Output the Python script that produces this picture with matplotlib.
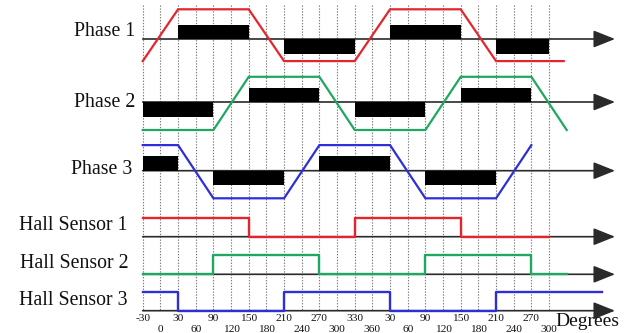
import numpy as np
import matplotlib
matplotlib.use("Agg")
import matplotlib.pyplot as plt

# ---------------- data ----------------
grid_deg = [-30, 0, 30, 60, 90, 120, 150, 180, 210, 240, 270, 300, 330, 360,
            390, 420, 450, 480, 510, 540, 570, 600, 630, 660]
top_tick_pos = [-30, 30, 90, 150, 210, 270, 330, 390, 450, 510, 570, 630]
top_tick_lab = ["-30", "30", "90", "150", "210", "270", "330", "30", "90", "150", "210", "270"]
bot_tick_pos = [0, 60, 120, 180, 240, 300, 360, 420, 480, 540, 600, 660]
bot_tick_lab = ["0", "60", "120", "180", "240", "300", "360", "60", "120", "180", "240", "300"]

# trapezoidal back-EMF (normalised +1 / -1)
phase1_deg = [-30, 30, 150, 210, 330, 390, 510, 570, 685]
phase1_lvl = [-1, 1, 1, -1, -1, 1, 1, -1, -1]
phase2_deg = [-30, 90, 150, 270, 330, 450, 510, 630, 690]
phase2_lvl = [-1, -1, 1, 1, -1, -1, 1, 1, -1]
phase3_deg = [-30, 30, 90, 210, 270, 390, 450, 570, 630]
phase3_lvl = [1, 1, -1, -1, 1, 1, -1, -1, 1]

# commutation current blocks: (start, end, sign)
phase1_bars = [(30, 150, 1), (210, 330, -1), (390, 510, 1), (570, 660, -1)]
phase2_bars = [(-30, 90, -1), (150, 270, 1), (330, 450, -1), (510, 630, 1)]
phase3_bars = [(-30, 30, 1), (90, 210, -1), (270, 390, 1), (450, 570, -1)]

# hall sensor signals (step, post)
hall1_deg = [-30, 150, 330, 510, 660]
hall1_lvl = [1, 0, 1, 0, 0]
hall2_deg = [-30, 90, 270, 450, 630, 690]
hall2_lvl = [0, 1, 0, 1, 0, 0]
hall3_deg = [-30, 30, 210, 390, 570, 750]
hall3_lvl = [1, 0, 1, 0, 1, 1]

row_labels = ["Phase 1", "Phase 2", "Phase 3", "Hall Sensor 1", "Hall Sensor 2", "Hall Sensor 3"]

# ---------------- layout (pixel space) ----------------
W, H = 626, 333
fig = plt.figure(figsize=(W / 100, H / 100), dpi=100)
ax = fig.add_axes([0, 0, 1, 1])
px_per_deg = 0.58884
x0_px = 160.4
ax.set_xlim(-x0_px / px_per_deg, (W - x0_px) / px_per_deg)
ax.set_ylim(H, 0)
ax.axis("off")

RED = "#e3262b"
GREEN = "#1fa862"
BLUE = "#2f2fd8"
AX_C = "#2a2a2a"
SERIF = ["Liberation Serif", "DejaVu Serif"]

# gridlines
for g in grid_deg:
    ax.plot([g, g], [5, 311], color="#7a7a7a", lw=0.8, ls=(0, (1.2, 1.4)), zorder=1)

# axis arrows
axis_y = [39, 102, 170.7, 236.7, 274.3, 310.7]
tip_deg = (615 - x0_px) / px_per_deg
for y in axis_y:
    ax.annotate("", xy=(tip_deg, y), xytext=(-30, y),
                arrowprops=dict(arrowstyle="-|>,head_length=0.95,head_width=0.38",
                                color=AX_C, lw=1.2, mutation_scale=14,
                                shrinkA=0, shrinkB=0), zorder=2)

# phases
phase_specs = [
    (phase1_deg, phase1_lvl, phase1_bars, RED, 35.2, 25.9, 39),
    (phase2_deg, phase2_lvl, phase2_bars, GREEN, 103.4, 26.6, 102),
    (phase3_deg, phase3_lvl, phase3_bars, BLUE, 171.7, 26.6, 170.7),
]
bar_h = 14.5
for deg, lvl, bars, col, cy, amp, ay in phase_specs:
    for s, e, sg in bars:
        ax.bar(s, -sg * bar_h, width=e - s, bottom=ay, align="edge",
               color="black", edgecolor="black", lw=0, zorder=3)
    ax.plot(deg, cy - amp * np.array(lvl), color=col, lw=1.6, zorder=4,
            solid_joinstyle="miter")

# hall sensors
hall_specs = [
    (hall1_deg, hall1_lvl, RED, 236.7),
    (hall2_deg, hall2_lvl, GREEN, 274.3),
    (hall3_deg, hall3_lvl, BLUE, 310.7),
]
for deg, lvl, col, ay in hall_specs:
    ax.step(deg, ay - 19 * np.array(lvl), where="post", color=col, lw=1.7, zorder=4)

# row labels
label_pos = [(135, 36), (135, 107.3), (132.5, 174.3), (127.3, 230), (128.3, 267.7), (127.7, 305)]
for lab, (xp, yp) in zip(row_labels, label_pos):
    fig.text(xp / W, 1 - yp / H, lab, ha="right", va="baseline",
             fontsize=14.3, family=SERIF, color="#111111")

# tick labels
for p, l in zip(top_tick_pos, top_tick_lab):
    ax.text(p, 320.7, l, ha="center", va="baseline", fontsize=8.2, family=SERIF, color="#111111")
for p, l in zip(bot_tick_pos, bot_tick_lab):
    ax.text(p, 331.8, l, ha="center", va="baseline", fontsize=8.2, family=SERIF, color="#111111")

fig.text(555 / W, 1 - 326 / H, "Degrees", ha="left", va="baseline",
         fontsize=14, family=SERIF, color="#111111")

fig.savefig("out.png", dpi=100)
